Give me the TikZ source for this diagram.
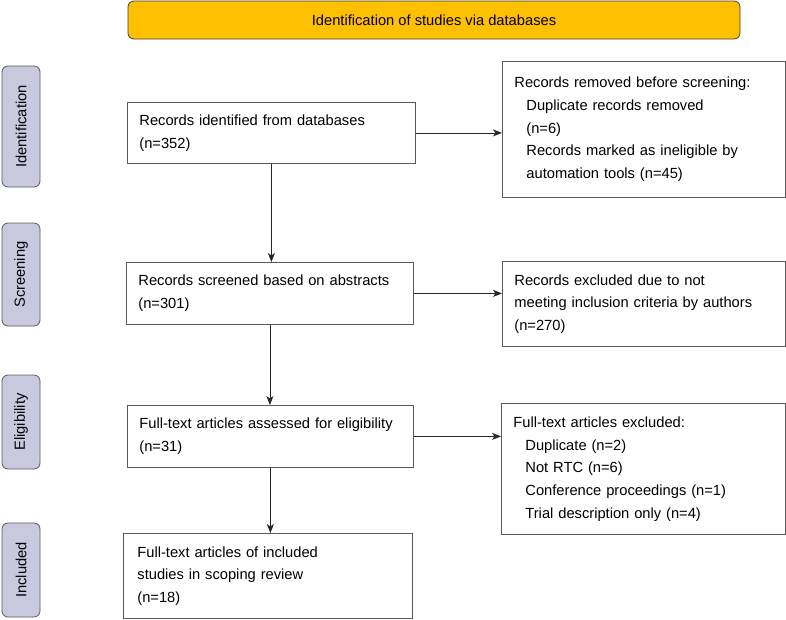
\documentclass[tikz,border=0pt]{standalone}
\usepackage{fontspec}
\setmainfont{Liberation Sans}
\usetikzlibrary{arrows.meta}
\definecolor{bannergold}{HTML}{FFC000}
\definecolor{phaselilac}{HTML}{C8C8DE}
\definecolor{boxgray}{HTML}{5A5A5A}
\tikzset{
  rec/.style={draw=boxgray, line width=0.8pt, anchor=north west, inner xsep=12pt, inner ysep=0pt,
    align=left, font=\fontsize{14.7}{22.7}\selectfont},
  phase/.style={draw=boxgray, fill=phaselilac, rounded corners=6pt, line width=0.8pt, rotate=90,
    minimum height=38pt, inner sep=0pt, font=\fontsize{14.7}{17}\selectfont},
  flow/.style={draw=black!85, line width=0.8pt, -{Stealth[length=9pt,width=7pt,inset=2.5pt]}}
}
\begin{document}
\begin{tikzpicture}[x=1pt,y=-1pt]
\useasboundingbox (0,0) rectangle (786,619);

\coordinate (top) at (434,20);
\coordinate (p1) at (21,126.5);
\coordinate (p2) at (21,274.5);
\coordinate (p3) at (21,422);
\coordinate (p4) at (21,570);

% banner and phases
\node[draw=black!75, fill=bannergold, rounded corners=6pt, line width=0.8pt, minimum width=612pt,
  minimum height=38pt, font=\fontsize{14.7}{17}\selectfont] (banner) at (top) {Identification of studies via databases};
\node[phase, minimum width=121pt] (ident) at (p1) {Identification};
\node[phase, minimum width=103pt] (screen) at (p2) {Screening};
\node[phase, minimum width=94pt] (elig) at (p3) {Eligibility};
\node[phase, minimum width=94pt] (incl) at (p4) {Included};

% left column
\node[rec, text width=264pt, minimum height=61pt] (b1) at (127,102)
  {Records identified from databases\\(n=352)};
\node[rec, text width=263pt, minimum height=62pt] (b2) at (126,262)
  {Records screened based on abstracts\\(n=301)};
\node[rec, text width=262pt, minimum height=62pt] (b3) at (127,405)
  {Full-text articles assessed for eligibility\\(n=31)};
\node[rec, inner xsep=14pt, text width=261pt, minimum height=85pt] (b4) at (123,533)
  {Full-text articles of included\\studies in scoping review\\(n=18)};

% right column
\node[rec, text width=259pt, minimum height=136pt] (r1) at (502,61)
  {Records removed before screening:\\
   \hspace*{12pt}Duplicate records removed\\
   \hspace*{12pt}(n=6)\\
   \hspace*{12pt}Records marked as ineligible by\\
   \hspace*{12pt}automation tools (n=45)};
\node[rec, text width=259pt, minimum height=85pt] (r2) at (502,261)
  {Records excluded due to not\\meeting inclusion criteria by authors\\(n=270)};
\node[rec, text width=260pt, minimum height=131pt] (r3) at (501,403)
  {Full-text articles excluded:\\
   \hspace*{12pt}Duplicate (n=2)\\
   \hspace*{12pt}Not RTC (n=6)\\
   \hspace*{12pt}Conference proceedings (n=1)\\
   \hspace*{12pt}Trial description only (n=4)};

\draw[flow] (b1.east) -- (b1.east -| r1.west);
\draw[flow] (b2.east) -- (b2.east -| r2.west);
\draw[flow] (b3.east) -- (b3.east -| r3.west);
\draw[flow] (b1.south) -- (b1.south |- b2.north);
\draw[flow] (b2.south) -- (b2.south |- b3.north);
\draw[flow] (b3.south) -- (b3.south |- b4.north);
\end{tikzpicture}
\end{document}
